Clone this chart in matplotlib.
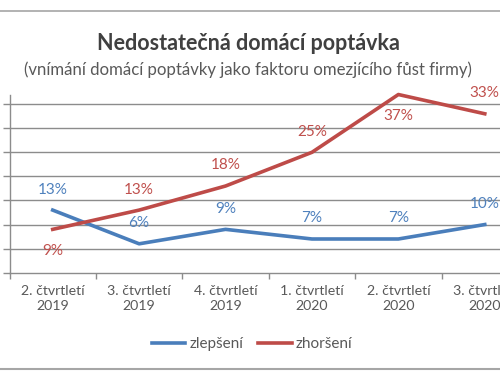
import matplotlib
matplotlib.use("Agg")
import matplotlib.pyplot as plt
from matplotlib.lines import Line2D

categories = ["2. čtvrtletí\n2019", "3. čtvrtletí\n2019", "4. čtvrtletí\n2019",
              "1. čtvrtletí\n2020", "2. čtvrtletí\n2020", "3. čtvrtletí\n2020"]
zlepseni = [13, 6, 9, 7, 7, 10]
zhorseni = [9, 13, 18, 25, 37, 33]
# label placement: +1 above the point, -1 below
zlepseni_pos = [1, 1, 1, 1, 1, 1]
zhorseni_pos = [-1, 1, 1, 1, -1, 1]

title = "Nedostatečná domácí poptávka"
subtitle = "(vnímání domácí poptávky jako faktoru omezjícího fůst firmy)"

BLUE = "#4a7ebb"
RED = "#be4b48"
BLUE_T = "#4f81bd"
RED_T = "#c0504d"
TXT = "#595959"
GRID = "#8c8c8c"

plt.rcParams['font.family'] = ['Lato', 'DejaVu Sans']

fig = plt.figure(figsize=(5, 3.75), dpi=100)
W, H = 500, 375

def fx(x):
    return x / W

def fy(y):
    return 1 - y / H

ax_left, ax_right, ax_bottom, ax_top = 9.5, 528, 272.7, 95
ax = fig.add_axes([fx(ax_left), fy(ax_bottom), (ax_right - ax_left) / W, (ax_bottom - ax_top) / H])
ax.set_facecolor("none")

xs = list(range(len(categories)))
ax.set_xlim(-0.5, len(categories) - 0.5)
ax.set_ylim(0, 36.9)

for v in [5, 10, 15, 20, 25, 30, 35]:
    ax.axhline(v, color=GRID, lw=1.0, zorder=1)

ax.plot(xs, zlepseni, color=BLUE, lw=2.6, solid_joinstyle='round', zorder=3, clip_on=False)
ax.plot(xs, zhorseni, color=RED, lw=2.6, solid_joinstyle='round', zorder=3, clip_on=False)

for x, v, p in zip(xs, zlepseni, zlepseni_pos):
    ax.annotate(f"{v}%", (x, v), xytext=(0, 14.8 * p), textcoords="offset points",
                ha="center", va="center", fontsize=11, color=BLUE_T, annotation_clip=False)
for x, v, p in zip(xs, zhorseni, zhorseni_pos):
    off = 14.8 if p > 0 else -15.5
    ax.annotate(f"{v}%", (x, v), xytext=(0, off), textcoords="offset points",
                ha="center", va="center", fontsize=11, color=RED_T, annotation_clip=False)

for s in ["top", "right"]:
    ax.spines[s].set_visible(False)
ax.spines["left"].set_color(GRID)
ax.spines["bottom"].set_color(GRID)
ax.spines["left"].set_linewidth(1.0)
ax.spines["bottom"].set_linewidth(1.0)

ax.set_yticks([0, 5, 10, 15, 20, 25, 30, 35])
ax.set_yticklabels([])
ax.tick_params(axis="y", length=5, color=GRID, width=1.0)

ax.set_xticks(xs)
ax.set_xticklabels(categories, fontsize=10.2, color=TXT, linespacing=1.3)
ax.set_xticks([i - 0.5 for i in range(len(categories) + 1)], minor=True)
ax.tick_params(axis="x", which="major", length=0, pad=9)
ax.tick_params(axis="x", which="minor", length=4, color=GRID, width=1.0)

fig.text(0.496, fy(44), title, ha="center", va="center", fontsize=15.5,
         fontweight="bold", color="#404040")
fig.text(0.496, fy(70), subtitle, ha="center", va="center", fontsize=12.1, color=TXT)

# legend
handles = [Line2D([], [], color=BLUE, lw=2.6), Line2D([], [], color=RED, lw=2.6)]
fig.legend(handles, ["zlepšení", "zhoršení"], loc="center", bbox_to_anchor=(fx(252), fy(344)),
           ncol=2, frameon=False, fontsize=11, labelcolor=TXT, handlelength=2.2,
           handletextpad=0.25, columnspacing=1.0)

# frame lines of the chart object
fig.add_artist(Line2D([0, 1], [fy(11), fy(11)], color="#a6a6a6", lw=1.2, transform=fig.transFigure))
fig.add_artist(Line2D([0, 1], [fy(368.5), fy(368.5)], color="#a6a6a6", lw=1.5, transform=fig.transFigure))

fig.savefig("out.png", dpi=100)
